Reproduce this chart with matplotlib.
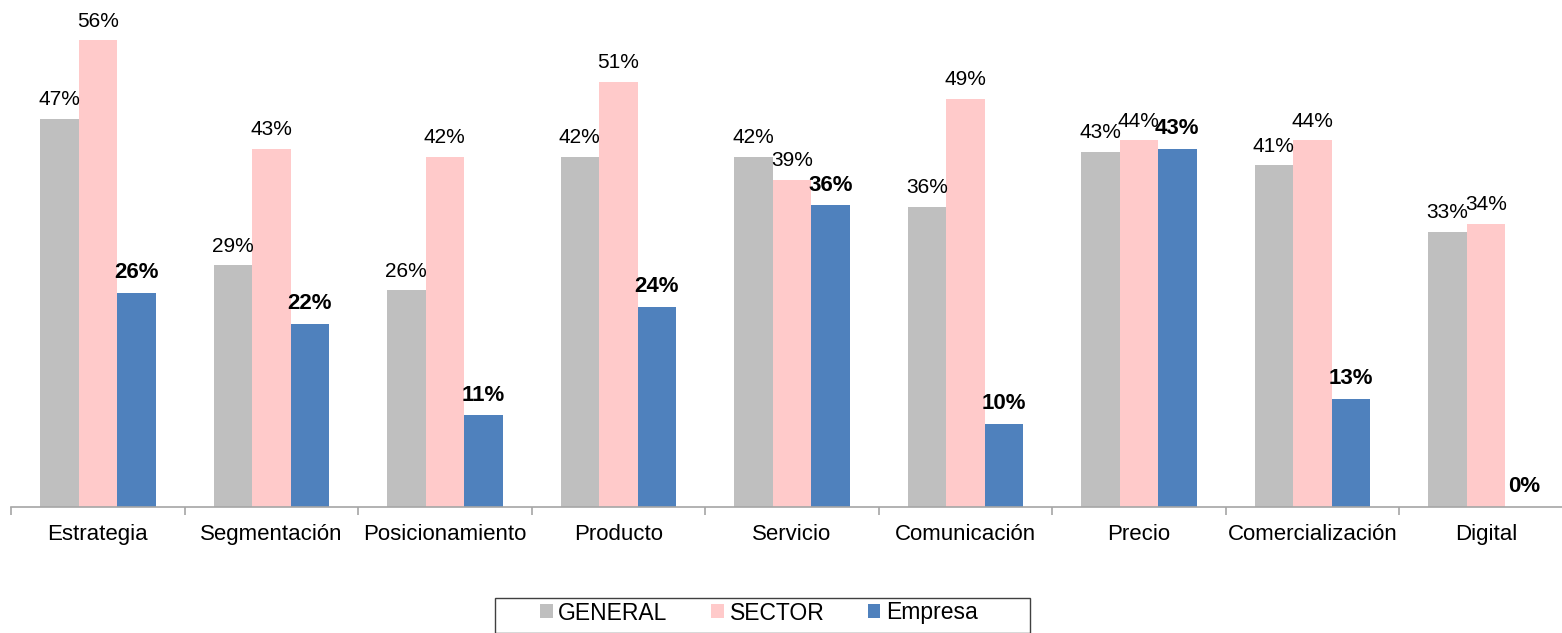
import numpy as np
import matplotlib
matplotlib.use("Agg")
import matplotlib.pyplot as plt
from matplotlib.patches import Rectangle
from matplotlib.ticker import FixedLocator

plt.rcParams["font.family"] = ["Liberation Sans", "DejaVu Sans"]

categories = ["Estrategia", "Segmentación", "Posicionamiento", "Producto", "Servicio",
              "Comunicación", "Precio", "Comercialización", "Digital"]
general = [46.6, 29, 26, 42, 42, 36, 42.6, 41, 33]
sector = [56, 43, 42, 51, 39.3, 49, 44, 44, 34]
empresa = [25.7, 22, 11, 24, 36.2, 10, 43, 13, 0]

series = [("GENERAL", general, "#BFBFBF", "normal"),
          ("SECTOR", sector, "#FFCACA", "normal"),
          ("Empresa", empresa, "#4F81BD", "bold")]

W, H = 1562, 633
fig = plt.figure(figsize=(W / 100, H / 100), dpi=100)
# plot area spans slightly past the right edge, as in the original export
ax = fig.add_axes([11 / W, (H - 507) / H, 9 * 173.5 / W, 500 / H])

n = len(categories)
x = np.arange(n) + 0.5
bw = 38.5 / 173.5

handles = []
for k, (name, vals, color, weight) in enumerate(series):
    pos = x + (k - 1) * bw
    b = ax.bar(pos, vals, bw, color=color, label=name, linewidth=0)
    handles.append(b)
    for px, v in zip(pos, vals):
        ax.annotate(f"{v:.0f}%", (px, v), xytext=(0, 7),
                    textcoords="offset points", ha="center", va="bottom",
                    fontsize=15 if weight == "normal" else 16,
                    fontweight=weight, color="black")

ax.set_xlim(0, n)
ax.set_ylim(0, 60)
ax.set_yticks([])
for s in ["top", "right", "left"]:
    ax.spines[s].set_visible(False)
ax.spines["bottom"].set_color("#A6A6A6")
ax.spines["bottom"].set_linewidth(1.2)

ax.xaxis.set_major_locator(FixedLocator(np.arange(n + 1)))
ax.xaxis.set_minor_locator(FixedLocator(x))
ax.set_xticklabels([], minor=False)
ax.set_xticklabels(categories, minor=True, fontsize=16)
ax.tick_params(axis="x", which="major", length=6, width=1.2, color="#A6A6A6", direction="out")
ax.tick_params(axis="x", which="minor", length=0, pad=12)

# legend entries without frame; the box is drawn separately (wider, runs off the bottom)
fig.legend(handles=handles, loc="center left",
           bbox_to_anchor=(540 / W, 1 - 613 / H), bbox_transform=fig.transFigure,
           ncol=3, fontsize=16.5, frameon=False,
           handlelength=0.55, handleheight=0.55, handletextpad=0.25,
           columnspacing=1.9, borderpad=0, borderaxespad=0)
fig.add_artist(Rectangle((495 / W, 0), (1030 - 495) / W, 1 - 597 / H - 0.002,
                         transform=fig.transFigure, fill=False,
                         edgecolor="#404040", linewidth=1.0))

fig.savefig("out.png", dpi=100)
